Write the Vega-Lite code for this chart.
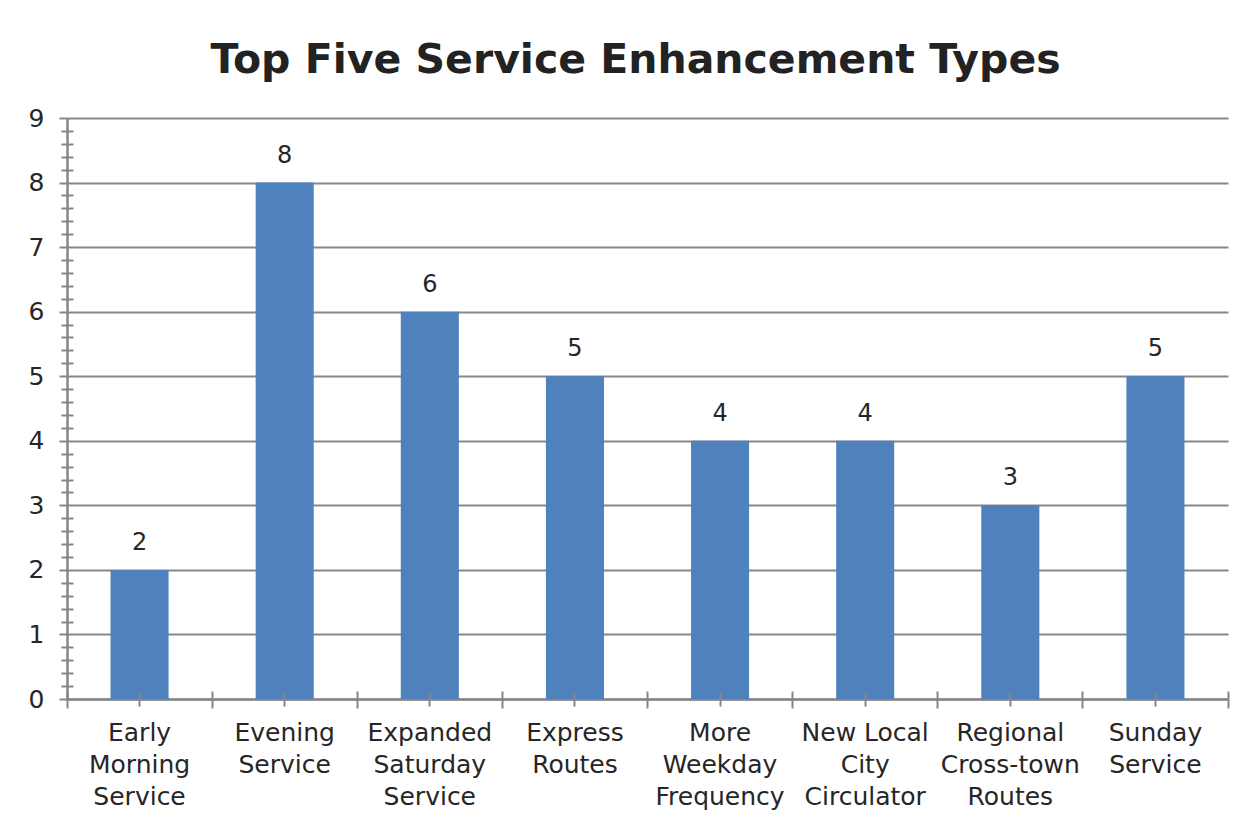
{
  "$schema": "https://vega.github.io/schema/vega-lite/v6.json",
  "width": 1161,
  "height": 581,
  "autosize": {"type": "none"},
  "padding": {"left": 67, "top": 118, "right": 28, "bottom": 128},
  "background": "white",
  "config": {"view": {"stroke": null}, "font": "DejaVu Sans"},
  "title": {
    "text": "Top Five Service Enhancement Types",
    "fontSize": 41,
    "fontWeight": "bold",
    "color": "#222222",
    "font": "DejaVu Sans",
    "anchor": "middle",
    "dx": -12,
    "offset": -8,
    "baseline": "alphabetic"
  },
  "data": {
    "values": [
      {"type": "Early Morning Service", "count": 2},
      {"type": "Evening Service", "count": 8},
      {"type": "Expanded Saturday Service", "count": 6},
      {"type": "Express Routes", "count": 5},
      {"type": "More Weekday Frequency", "count": 4},
      {"type": "New Local City Circulator", "count": 4},
      {"type": "Regional Cross-town Routes", "count": 3},
      {"type": "Sunday Service", "count": 5}
    ]
  },
  "layer": [
    {
      "mark": {"type": "bar", "color": "#4F81BD"},
      "encoding": {
        "x": {
          "field": "type", "type": "nominal", "sort": null,
          "scale": {"paddingInner": 0.6, "paddingOuter": 0.3},
          "axis": {
            "orient": "bottom", "title": null, "labelAngle": 0,
            "ticks": false, "tickSize": 0,
            "domainColor": "#878787", "domainWidth": 2.5,
            "labelFont": "DejaVu Sans", "labelFontSize": 25, "labelColor": "#262626", "labelPadding": 21,
            "labelLineHeight": 32, "labelBaseline": "top",
            "labelExpr": "datum.value == 'New Local City Circulator' ? ['New Local', 'City', 'Circulator'] : split(datum.value, ' ')"
          }
        },
        "y": {
          "field": "count", "type": "quantitative",
          "scale": {"domain": [0, 9], "nice": false},
          "axis": {
            "orient": "left", "title": null, "values": [0,1,2,3,4,5,6,7,8,9],
            "grid": true, "gridColor": "#878787", "gridWidth": 2,
            "tickSize": 8, "tickWidth": 2, "tickColor": "#878787",
            "domainColor": "#878787", "domainWidth": 2.5,
            "labelFont": "DejaVu Sans", "labelFontSize": 25, "labelColor": "#262626", "labelPadding": 15
          }
        }
      }
    },
    {
      "mark": {"type": "text", "dy": -27, "fontSize": 24, "color": "#262626", "font": "DejaVu Sans"},
      "encoding": {
        "text": {"field": "count", "type": "quantitative"},
        "x": {
          "field": "type", "type": "nominal", "sort": null,
          "scale": {"paddingInner": 0.6, "paddingOuter": 0.3},
          "axis": null
        },
        "y": {
          "field": "count", "type": "quantitative",
          "scale": {"domain": [0, 9], "nice": false},
          "axis": {
            "orient": "left", "title": null, "labels": false, "domain": false, "grid": false,
            "values": [0.2,0.4,0.6,0.8,1.2,1.4,1.6,1.8,2.2,2.4,2.6,2.8,3.2,3.4,3.6,3.8,4.2,4.4,4.6,4.8,5.2,5.4,5.6,5.8,6.2,6.4,6.6,6.8,7.2,7.4,7.6,7.8,8.2,8.4,8.6,8.8],
            "offset": -6, "tickSize": 12, "tickWidth": 2, "tickColor": "#878787"
          }
        }
      }
    },
    {
      "mark": {"type": "bar", "opacity": 0},
      "encoding": {
        "x": {
          "field": "type", "type": "nominal", "sort": null,
          "scale": {"paddingInner": 0.6, "paddingOuter": 0.3},
          "axis": {
            "orient": "bottom", "title": null, "labels": false, "domain": false, "grid": false,
            "values": ["Early Morning Service", "Evening Service", "Expanded Saturday Service", "Express Routes", "More Weekday Frequency", "New Local City Circulator", "Regional Cross-town Routes", "Sunday Service"],
            "bandPosition": 0.5, "offset": -6, "tickSize": 13, "tickWidth": 2, "tickColor": "#878787", "zindex": 1
          }
        },
        "y": {
          "field": "count", "type": "quantitative",
          "scale": {"domain": [0, 9], "nice": false},
          "axis": null
        }
      }
    },
    {
      "mark": {"type": "bar", "opacity": 0},
      "encoding": {
        "x": {
          "field": "type", "type": "nominal", "sort": null,
          "scale": {"paddingInner": 0.6, "paddingOuter": 0.3},
          "axis": {
            "orient": "bottom", "title": null, "labels": false, "domain": false, "grid": false,
            "bandPosition": -0.75, "offset": -8, "tickSize": 17, "tickWidth": 2, "tickColor": "#878787"
          }
        },
        "y": {
          "field": "count", "type": "quantitative",
          "scale": {"domain": [0, 9], "nice": false},
          "axis": null
        }
      }
    },
    {
      "mark": {"type": "bar", "opacity": 0},
      "encoding": {
        "x": {
          "field": "type", "type": "nominal", "sort": null,
          "scale": {"paddingInner": 0.6, "paddingOuter": 0.3},
          "axis": {
            "orient": "bottom", "title": null, "labels": false, "domain": false, "grid": false,
            "values": ["Sunday Service"],
            "bandPosition": 1.75, "offset": -8, "tickSize": 17, "tickWidth": 2, "tickColor": "#878787"
          }
        },
        "y": {
          "field": "count", "type": "quantitative",
          "scale": {"domain": [0, 9], "nice": false},
          "axis": null
        }
      }
    }
  ],
  "resolve": {"axis": {"x": "independent", "y": "independent"}}
}
